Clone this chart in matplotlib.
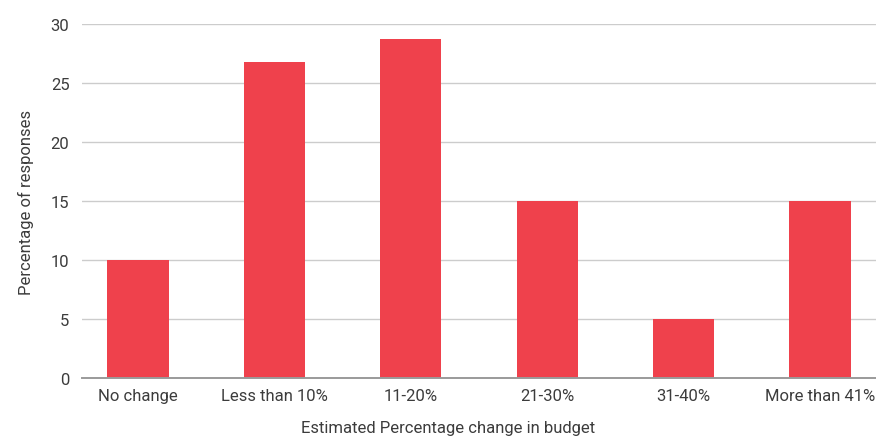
"""Bar chart: estimated percentage change in budget vs. share of responses."""
import matplotlib
matplotlib.use("Agg")
import matplotlib.pyplot as plt

plt.rcParams["font.family"] = ["Roboto", "DejaVu Sans"]

categories = ["No change", "Less than 10%", "11-20%", "21-30%", "31-40%", "More than 41%"]
responses = [10, 26.8, 28.7, 15, 5, 15]
y_ticks = [0, 5, 10, 15, 20, 25, 30]

BAR_COLOR = "#ef414c"
TEXT_COLOR = "#3c3c3c"
FONT_SIZE = 12

fig = plt.figure(figsize=(8.76, 4.39), dpi=100)
ax = fig.add_axes([0.0936, 0.1367, 0.9064, 0.8063])

x = range(len(categories))
ax.bar(x, responses, width=0.45, color=BAR_COLOR, zorder=3)

ax.set_xlim(-0.41, len(categories) - 1 + 0.41)
ax.set_ylim(0, 30)
ax.set_yticks(y_ticks)
ax.set_xticks(list(x))
ax.set_xticklabels(categories)

ax.grid(axis="y", color="#cccccc", linewidth=1.0, zorder=0)
for side in ("top", "right", "left"):
    ax.spines[side].set_visible(False)
ax.spines["bottom"].set_color("#9a9a9a")
ax.spines["bottom"].set_linewidth(1.4)
ax.spines["bottom"].set_zorder(4)

ax.tick_params(axis="both", length=0, labelsize=FONT_SIZE, colors=TEXT_COLOR)
ax.tick_params(axis="y", pad=9)
ax.tick_params(axis="x", pad=7)

ax.set_xlabel("Estimated Percentage change in budget", fontsize=FONT_SIZE,
              color=TEXT_COLOR)
ax.xaxis.set_label_coords(0.461, -0.118)
ax.set_ylabel("Percentage of responses", fontsize=FONT_SIZE, color=TEXT_COLOR,
              labelpad=12)

fig.savefig("out.png", dpi=100)
